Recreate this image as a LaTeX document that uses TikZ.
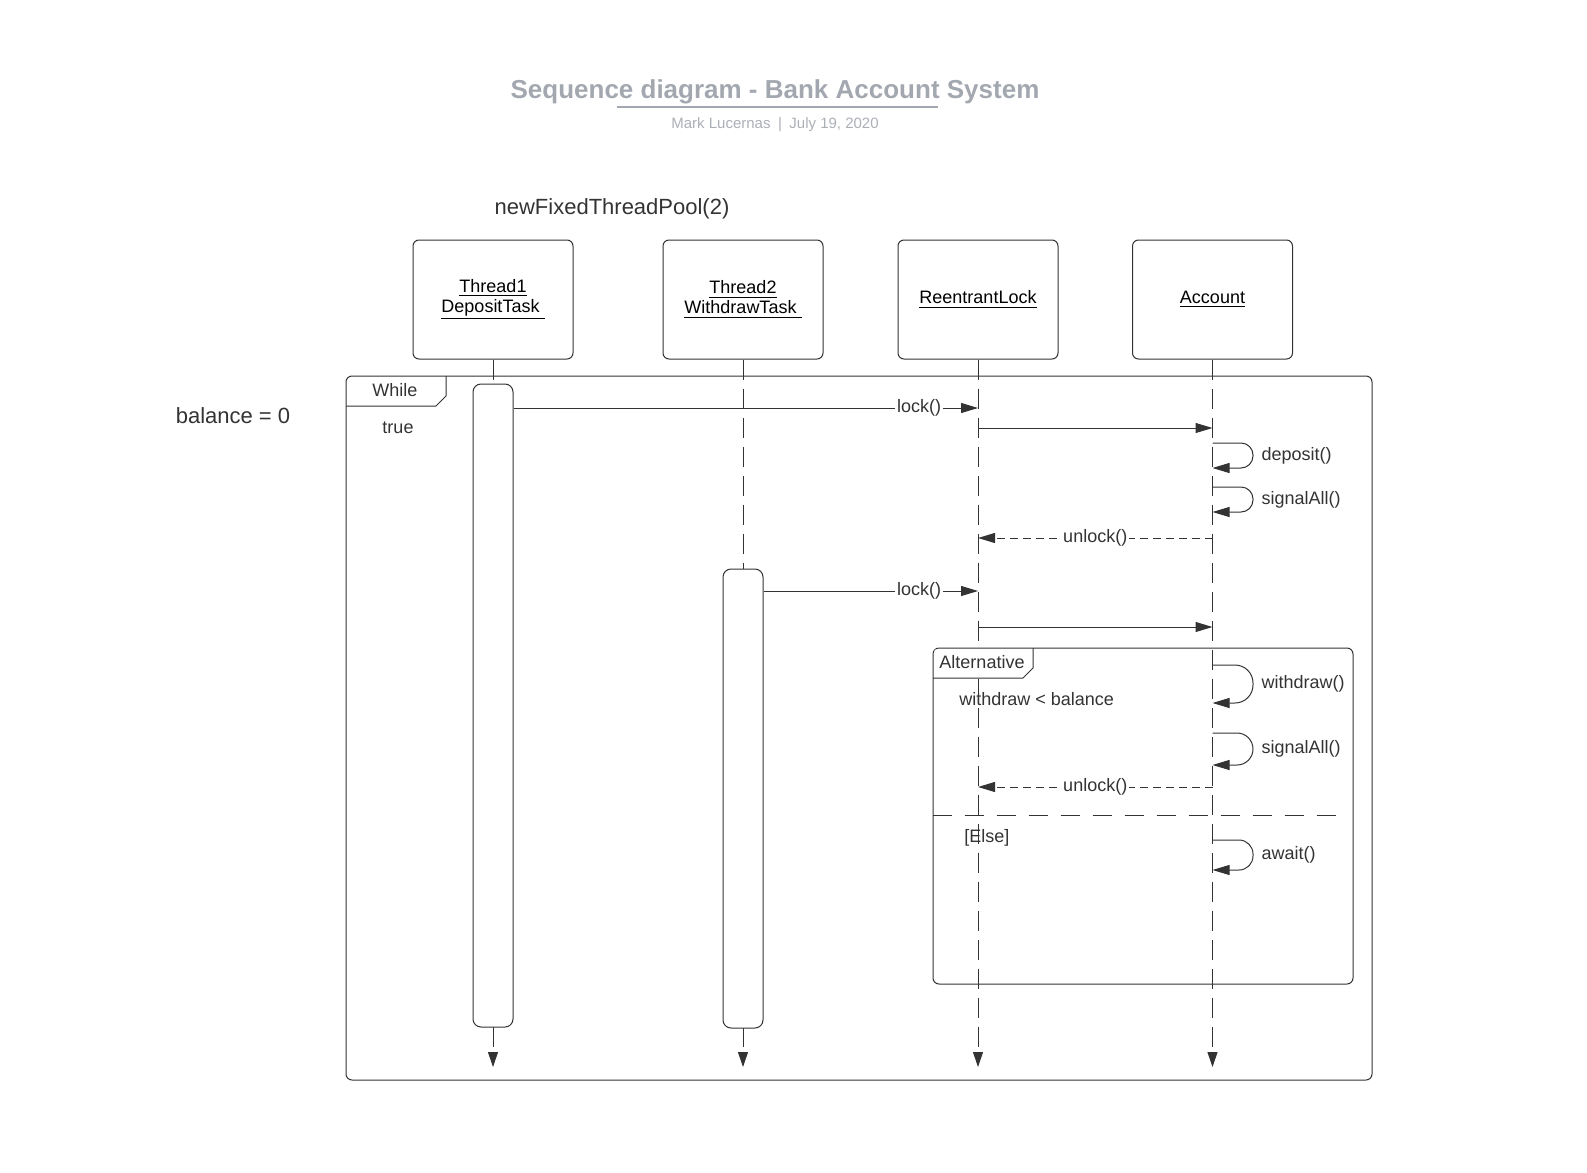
\documentclass[tikz,border=0pt]{standalone}
\usepackage{fontspec}
\setmainfont{Liberation Sans}
\usetikzlibrary{arrows.meta}
\definecolor{linegray}{HTML}{333333}
\definecolor{titlegray}{HTML}{A3A8B0}
\definecolor{subgray}{HTML}{ABAFB6}
\tikzstyle{titletext} = [font=\bfseries\fontsize{13}{15}\selectfont, text=titlegray, inner sep=0pt]
\tikzstyle{subtext} = [font=\fontsize{7.5}{9}\selectfont, text=subgray, inner sep=0pt]
\tikzstyle{bigtext} = [font=\fontsize{11}{13}\selectfont, text=linegray, inner sep=0pt]
\tikzstyle{txt} = [font=\fontsize{9}{11}\selectfont, text=linegray, inner sep=1pt]
\tikzstyle{lbl} = [txt, fill=white]
\tikzstyle{head} = [rectangle, rounded corners=3pt, draw=linegray, line width=0.5pt, minimum width=80pt, minimum height=59.5pt, align=center, font=\fontsize{9}{10}\selectfont]
\tikzstyle{bar} = [rectangle, rounded corners=4pt, draw=linegray, line width=0.5pt, fill=white, minimum width=20pt]
\tikzstyle{frame} = [rectangle, rounded corners=3pt, draw=linegray, line width=0.5pt]
\tikzstyle{tab} = [draw=linegray, line width=0.5pt]
\tikzstyle{life} = [draw=linegray, line width=0.5pt, dash pattern=on 10pt off 4.5pt, -{Triangle[length=7.5pt,width=5pt]}]
\tikzstyle{msg} = [draw=linegray, line width=0.5pt, -{Triangle[length=8.5pt,width=5pt]}]
\tikzstyle{reply} = [msg, dash pattern=on 4pt off 2.5pt]

\begin{document}
\begin{tikzpicture}[x=0.5pt, y=-0.5pt]
    \useasboundingbox (0,0) rectangle (1587,1173);

    % title block
    \node (title) [titletext] at (775,92) {Sequence diagram - Bank Account System};
    \draw [titlegray, line width=1pt] (617,107) -- (938,107);
    \node (sub) [subtext] at (775,125) {Mark Lucernas\enspace|\enspace July 19, 2020};

    \node (pool) [bigtext] at (612,209) {newFixedThreadPool(2)};
    \node (bal) [bigtext] at (233,416) {balance = 0};

    % lifeline heads
    \node (t1) [head] at (493,299.5) {\underline{Thread1}\\\underline{DepositTask\ }};
    \node (t2) [head] at (743,299.5) {\underline{Thread2}\\\underline{WithdrawTask\ }};
    \node (lock) [head] at (978,299.5) {\underline{ReentrantLock}};
    \node (acct) [head] at (1212.5,299.5) {\underline{Account}};

    \coordinate (t1end) at (493,1067);
    \coordinate (t2end) at (743,1067);
    \coordinate (lockend) at (978,1067);
    \coordinate (acctend) at (1212.5,1067);

    % while frame
    \node (loop) [frame, minimum width=513pt, minimum height=352pt] at (859,728) {};
    \draw [tab] (346,406) -- (436,406) -- (446,396) -- (446,376);
    \node (looptag) [txt] at (395,390) {While};
    \node (loopcond) [txt] at (398,428) {true};

    % alternative frame
    \node (alt) [frame, minimum width=210pt, minimum height=168pt] at (1143,816) {};
    \node (altcond) [txt, anchor=west] at (957,699) {withdraw < balance};
    \draw [tab, dash pattern=on 9.5pt off 6.5pt] (alt.west |- 0,815) -- (1338,815);
    \node (elsecond) [txt, anchor=west] at (962,838) {[Else]};

    % lifelines
    \draw [life] (t1) -- (t1end);
    \draw [life] (t2) -- (t2end);
    \draw [life] (lock) -- (lockend);
    \draw [life] (acct) -- (acctend);

    % alternative tab over the lifeline
    \fill [white] (934.5,649.5) -- (1032,649.5) -- (1032,667.5) -- (1022.5,677) -- (934.5,677) -- cycle;
    \draw [tab] (933,678) -- (1023,678) -- (1033,668) -- (1033,648);
    \node (alttag) [txt] at (982,662) {Alternative};

    % activations
    \node (t1bar) [bar, minimum height=321.5pt] at (493,705.5) {};
    \node (t2bar) [bar, minimum height=229.5pt] at (743,798.5) {};

    % deposit
    \draw [msg] (t1bar.east |- 0,408) -- (lock |- 0,408) node [lbl, pos=0.873] {lock()};
    \draw [msg] (lock |- 0,428) -- (acct |- 0,428);
    \draw [msg, rounded corners=6pt] (acct |- 0,443) -- (1253,443) -- (1253,468) node [txt, midway, right=3pt] {deposit()} -- (acct |- 0,468);
    \draw [msg, rounded corners=6pt] (acct |- 0,487) -- (1253,487) -- (1253,512) node [txt, midway, right=3pt] {signalAll()} -- (acct |- 0,512);
    \draw [reply] (acct |- 0,538) -- (lock |- 0,538) node [lbl, midway] {unlock()};

    % withdraw
    \draw [msg] (t2bar.east |- 0,591) -- (lock |- 0,591) node [lbl, pos=0.726] {lock()};
    \draw [msg] (lock |- 0,627) -- (acct |- 0,627);
    \draw [msg, rounded corners=9pt] (acct |- 0,665) -- (1253,665) -- (1253,703) node [txt, midway, right=3pt] {withdraw()} -- (acct |- 0,703);
    \draw [msg, rounded corners=8pt] (acct |- 0,733) -- (1253,733) -- (1253,765) node [txt, midway, right=3pt] {signalAll()} -- (acct |- 0,765);
    \draw [reply] (acct |- 0,787) -- (lock |- 0,787) node [lbl, midway] {unlock()};
    \draw [msg, rounded corners=7pt] (acct |- 0,840) -- (1253,840) -- (1253,870) node [txt, midway, right=3pt] {await()} -- (acct |- 0,870);
\end{tikzpicture}
\end{document}
